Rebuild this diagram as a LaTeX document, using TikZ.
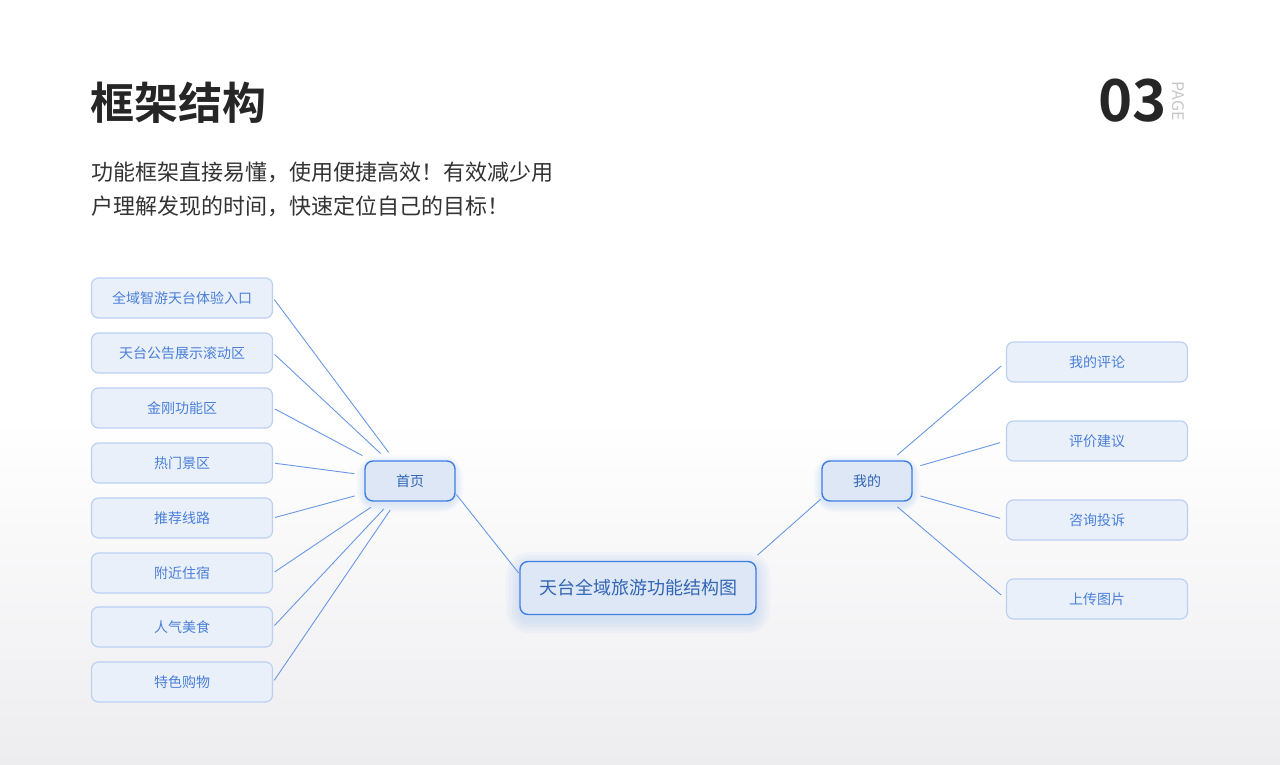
\documentclass[tikz,border=0pt]{standalone}
\usepackage{fontspec}
\setmainfont{Noto Sans CJK SC}
\newfontfamily\cjkbold{Noto Sans CJK SC Bold}
\usetikzlibrary{calc}
\definecolor{leaffill}{HTML}{EAF0FA}
\definecolor{leafdraw}{HTML}{BCD0F2}
\definecolor{leaftext}{HTML}{4A7FD8}
\definecolor{hubdraw}{HTML}{3F7FE0}
\definecolor{hubfill}{HTML}{DDE7F6}
\definecolor{linec}{HTML}{6A98E6}
\definecolor{bgbot}{HTML}{EDEDF0}
\begin{document}
\begin{tikzpicture}[x=1pt,y=-1pt,
  leaf/.style={draw=leafdraw,line width=1.2pt,fill=leaffill,rounded corners=7pt,minimum width=181pt,minimum height=40pt,text=leaftext,font=\fontsize{14}{16}\selectfont},
  hub/.style={draw=hubdraw,line width=1.4pt,fill=hubfill,rounded corners=8pt,minimum width=90pt,minimum height=40pt,text=hubdraw!80!black,font=\fontsize{14}{16}\selectfont},
  conn/.style={draw=linec,line width=0.9pt}]
\useasboundingbox (0,0) rectangle (1280,765);
\shade[top color=white,bottom color=white] (0,0) rectangle (1280,420);
\shade[top color=white,bottom color=bgbot] (0,420) rectangle (1280,765);
\node[anchor=west,font=\cjkbold\fontsize{44}{48}\selectfont,text=black!85] (title) at (87,103) {框架结构};
\node[anchor=east,font=\cjkbold\fontsize{58}{60}\selectfont,text=black!85] (num) at (1170,101) {03};
\node[rotate=-90,font=\fontsize{16}{16}\selectfont,text=black!22] (page) at (1178,101) {PAGE};
\node[anchor=north west,align=left,font=\fontsize{22}{34}\selectfont,text=black!80] (para) at (88,158) {功能框架直接易懂，使用便捷高效！有效减少用\\户理解发现的时间，快速定位自己的目标！};
% glows
\foreach \r in {14,11,8,5,2}{
  \fill[hubdraw,opacity=0.035,rounded corners=\r pt+8pt] (520-\r,566-\r) rectangle (756+\r,619+\r);
  \fill[hubdraw,opacity=0.03,rounded corners=\r pt+8pt] (365-\r*0.6,464-\r*0.6) rectangle (455+\r*0.6,504+\r*0.6);
  \fill[hubdraw,opacity=0.03,rounded corners=\r pt+8pt] (822-\r*0.6,464-\r*0.6) rectangle (912+\r*0.6,504+\r*0.6);
}
\node[hub] (home) at (410,481) {首页};
\node[hub] (mine) at (867,481) {我的};
\node[hub,minimum width=236pt,minimum height=53pt,font=\fontsize{18}{20}\selectfont] (root) at (638,588) {天台全域旅游功能结构图};
\foreach \t/\y/\n in {全域智游天台体验入口/298/l1,天台公告展示滚动区/353/l2,金刚功能区/408/l3,热门景区/463/l4,推荐线路/518/l5,附近住宿/573/l6,人气美食/627/l7,特色购物/682/l8}{
  \node[leaf] (\n) at (182,\y) {\t};
  \draw[conn,shorten >=10pt,shorten <=2pt] (\n.east) -- (home);
}
\foreach \t/\y/\n in {我的评论/362/r1,评价建议/441/r2,咨询投诉/520/r3,上传图片/599/r4}{
  \node[leaf] (\n) at (1097,\y) {\t};
  \draw[conn,shorten >=6pt,shorten <=8pt] (mine) -- (\n.west);
}
\draw[conn,shorten >=1pt,shorten <=1pt] ($(root.north west)+(0,13)$) -- ($(home.south east)+(0,-8)$);
\draw[conn,shorten >=1pt,shorten <=1pt] ($(root.north east)+(0,-5)$) -- ($(mine.south west)+(0,-3)$);
\end{tikzpicture}
\end{document}
